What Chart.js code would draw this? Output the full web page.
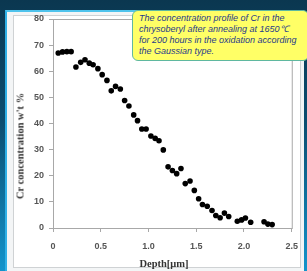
<!DOCTYPE html>
<html>
<head>
<meta charset="utf-8">
<script src="https://cdn.jsdelivr.net/npm/chart.js@4.4.0/dist/chart.umd.min.js"></script>
<style>
  html, body { margin: 0; padding: 0; }
  body {
    width: 307px; height: 271px; overflow: hidden; position: relative;
    background: linear-gradient(to bottom, #0b3750 0%, #0b4d70 45%, #1294cc 100%);
  }
  #panel {
    position: absolute; left: 5px; top: 10px; width: 297px; height: 261px;
    background: #f3f5f6; border-top: 2px solid #4fc3ec; border-left: 2px solid #2fb0e6;
  }
  #box {
    position: absolute; left: 13px; top: 15px; width: 286px; height: 251px;
    background: #ffffff; border: 1px solid #cfd2d4;
  }
  #wrap { position: absolute; left: 0; top: 0; width: 307px; height: 271px; }
  .title {
    position: absolute; font-family: "Liberation Serif", serif; font-weight: bold;
    font-size: 10.5px; color: #333333; white-space: nowrap;
    transform: translate(-50%, -50%);
  }
  #ytitle { left: 20px; top: 146px; transform: translate(-50%, -50%) rotate(-90deg); }
  #xtitle { left: 164px; top: 263px; }
  #note {
    position: absolute; left: 132px; top: 10px; width: 166px; height: 45px;
    padding: 2px 3px 2px 6px;
    background: #ffff66; border: 1px solid #5fb8a0; border-radius: 6px;
    font-family: "Liberation Sans", Arial, sans-serif; font-style: italic;
    font-size: 9px; line-height: 11px; color: #1f3a8a; white-space: nowrap;
  }
</style>
</head>
<body>
<div id="panel"></div>
<div id="box"></div>
<div id="wrap"><canvas id="chart" width="307" height="271"></canvas></div>
<div class="title" id="ytitle">Cr concentration w't %</div>
<div class="title" id="xtitle">Depth[μm]</div>
<div id="note">The concentration profile of Cr in the<br>chrysoberyl after annealing at 1650℃<br>for 200 hours in the oxidation according<br>the Gaussian type.</div>
<script>
// depth in micrometres and Cr concentration
const depth = [0.055, 0.10, 0.145, 0.19, 0.24, 0.29, 0.335, 0.38, 0.42, 0.47, 0.515, 0.565,
  0.61, 0.655, 0.705, 0.75, 0.795, 0.845, 0.885, 0.93, 0.975, 1.025, 1.07, 1.11, 1.155,
  1.205, 1.25, 1.295, 1.34, 1.385, 1.435, 1.48, 1.525, 1.565, 1.615, 1.665, 1.705, 1.75,
  1.795, 1.84, 1.93, 1.975, 2.015, 2.07, 2.21, 2.25, 2.295];
const crConc = [67.0, 67.4, 67.5, 67.5, 61.6, 63.4, 64.4, 63.1, 62.5, 61.0, 58.7, 56.5,
  52.5, 54.2, 53.2, 48.8, 46.7, 43.3, 41.1, 37.9, 37.9, 35.2, 34.3, 33.4, 29.9,
  23.4, 22.0, 20.8, 22.8, 17.0, 18.0, 14.4, 11.2, 9.0, 8.3, 6.7, 4.8, 3.9,
  5.7, 4.4, 2.6, 3.1, 3.8, 2.2, 2.4, 1.5, 1.3];

const xTicks = [0, 0.5, 1, 1.5, 2, 2.5];
const yTicks = [0, 10, 20, 30, 40, 50, 60, 70, 80];

const points = depth.map((d, i) => ({ x: d, y: crConc[i] }));

// plot area frame (Excel style box around the plot)
const frame = {
  id: 'frame',
  beforeDatasetsDraw(chart) {
    const a = chart.chartArea;
    const ctx = chart.ctx;
    ctx.save();
    ctx.strokeStyle = '#a8a8a8';
    ctx.lineWidth = 1;
    ctx.strokeRect(a.left + 0.5, a.top + 0.5, a.right - a.left, a.bottom - a.top);
    ctx.restore();
  },
};

const tickFont = { family: 'Liberation Sans', size: 9, weight: 'bold' };

new Chart(document.getElementById('chart'), {
  type: 'scatter',
  data: {
    datasets: [{
      data: points,
      backgroundColor: '#000000',
      borderWidth: 0,
      pointRadius: 2.8,
    }],
  },
  options: {
    responsive: false,
    animation: false,
    layout: { padding: { left: 14, top: 19, right: 14, bottom: 2 } },
    plugins: { legend: { display: false }, tooltip: { enabled: false } },
    scales: {
      x: {
        type: 'linear',
        min: 0,
        max: 2.5,
        afterBuildTicks: (s) => { s.ticks = xTicks.map((v) => ({ value: v })); },
        afterFit: (s) => { s.height = 41; },
        ticks: { font: tickFont, color: '#555555', padding: 9 },
        grid: { drawOnChartArea: false, tickLength: 4, color: '#a8a8a8' },
        border: { color: '#a8a8a8' },
      },
      y: {
        min: 0,
        max: 80,
        afterBuildTicks: (s) => { s.ticks = yTicks.map((v) => ({ value: v })); },
        afterFit: (s) => { s.width = 39; },
        ticks: { font: tickFont, color: '#555555', padding: 5 },
        grid: { drawOnChartArea: false, tickLength: 4, color: '#a8a8a8' },
        border: { color: '#a8a8a8' },
      },
    },
  },
  plugins: [frame],
});
</script>
</body>
</html>
